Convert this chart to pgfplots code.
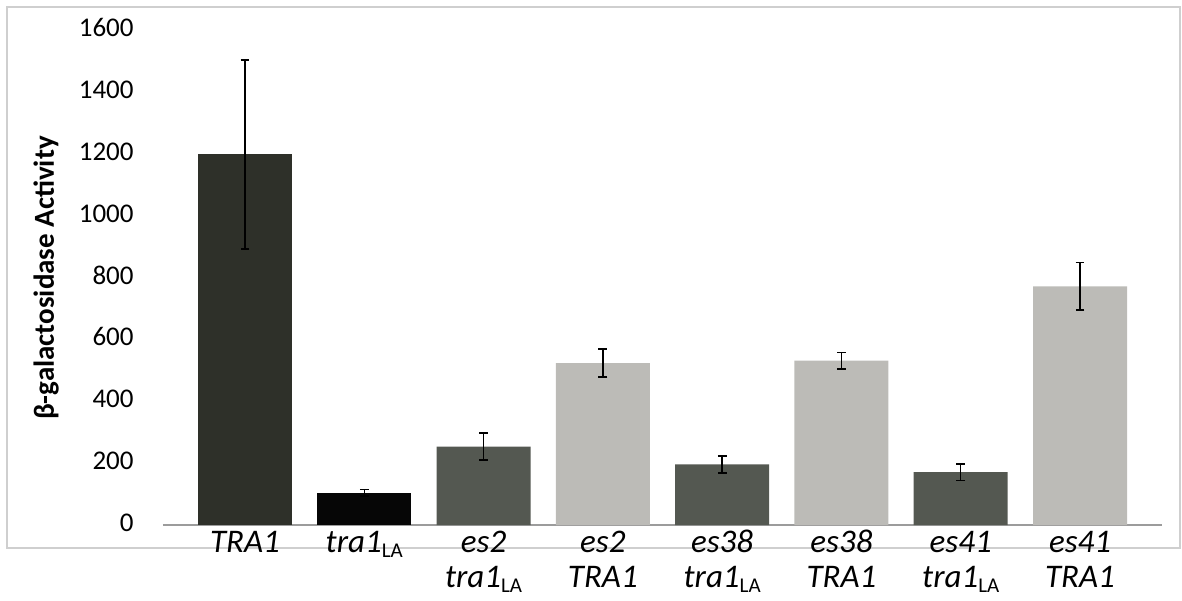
\documentclass[border=0pt]{standalone}
\usepackage{pgfplots}
\pgfplotsset{compat=1.18}
\usepackage{fontspec}
\setmainfont{Carlito}
\definecolor{cA}{HTML}{2E3029}
\definecolor{cB}{HTML}{060606}
\definecolor{cC}{HTML}{545851}
\definecolor{cD}{HTML}{BCBBB7}
\definecolor{frame}{HTML}{CFCFCF}
\definecolor{axisgray}{HTML}{9C9C9C}
\newcommand\la{\raisebox{-2.8pt}{\fontsize{10.5}{10.5}\selectfont LA}}
\pgfplotsset{
  mybar/.style={ybar, bar width=47pt, bar shift=0pt, draw=none, fill=#1,
    error bars/.cd, y dir=both, y explicit,
    error bar style={line width=0.7pt, black},
    error mark options={rotate=90, line width=0.9pt, mark size=2.2pt, black}},
}
\begin{document}
\begin{tikzpicture}
\useasboundingbox (-81.5pt,-37.5pt) rectangle (509.5pt,262.5pt);
\draw[color=frame, line width=1pt] (-78pt,-11.5pt) rectangle (508.5pt,259pt);
\begin{axis}[
  at={(0,0)}, anchor=south west,
  scale only axis, width=499.5pt, height=247pt,
  xmin=-0.687, xmax=7.687, ymin=0, ymax=1600,
  ytick={0,200,...,1600},
  xtick={0,...,7},
  xticklabels={
    {\textit{TRA1}},
    {\textit{tra1}\la},
    {\textit{es2}\\\textit{tra1}\la},
    {\textit{es2}\\\textit{TRA1}},
    {\textit{es38}\\\textit{tra1}\la},
    {\textit{es38}\\\textit{TRA1}},
    {\textit{es41}\\\textit{tra1}\la},
    {\textit{es41}\\\textit{TRA1}}},
  typeset ticklabels with strut,
  xticklabel style={font=\fontsize{16.5}{17.5}\selectfont, align=center, inner sep=0pt, yshift=-1.1pt},
  yticklabel style={font=\fontsize{13.5}{15}\selectfont, inner sep=0pt, xshift=-14.5pt},
  /pgf/number format/assume math mode=true,
  /pgf/number format/1000 sep={},
  axis line style={draw=none},
  tick style={draw=none},
  ylabel={β-galactosidase Activity},
  ylabel style={at={(axis description cs:-0.117,0.5)}, anchor=center, font=\bfseries\fontsize{14.5}{16}\selectfont},
  clip=false,
]
\draw[axisgray, line width=0.8pt] (rel axis cs:0,0) -- (rel axis cs:1,0);
\addplot[mybar=cA] coordinates {(0,1200) +- (0,305)};
\addplot[mybar=cB] coordinates {(1,104) +- (0,11)};
\addplot[mybar=cC] coordinates {(2,254) +- (0,44) (4,196) +- (0,28) (6,171) +- (0,27)};
\addplot[mybar=cD] coordinates {(3,524) +- (0,45) (5,532) +- (0,27) (7,773) +- (0,77)};
\end{axis}
\end{tikzpicture}
\end{document}
